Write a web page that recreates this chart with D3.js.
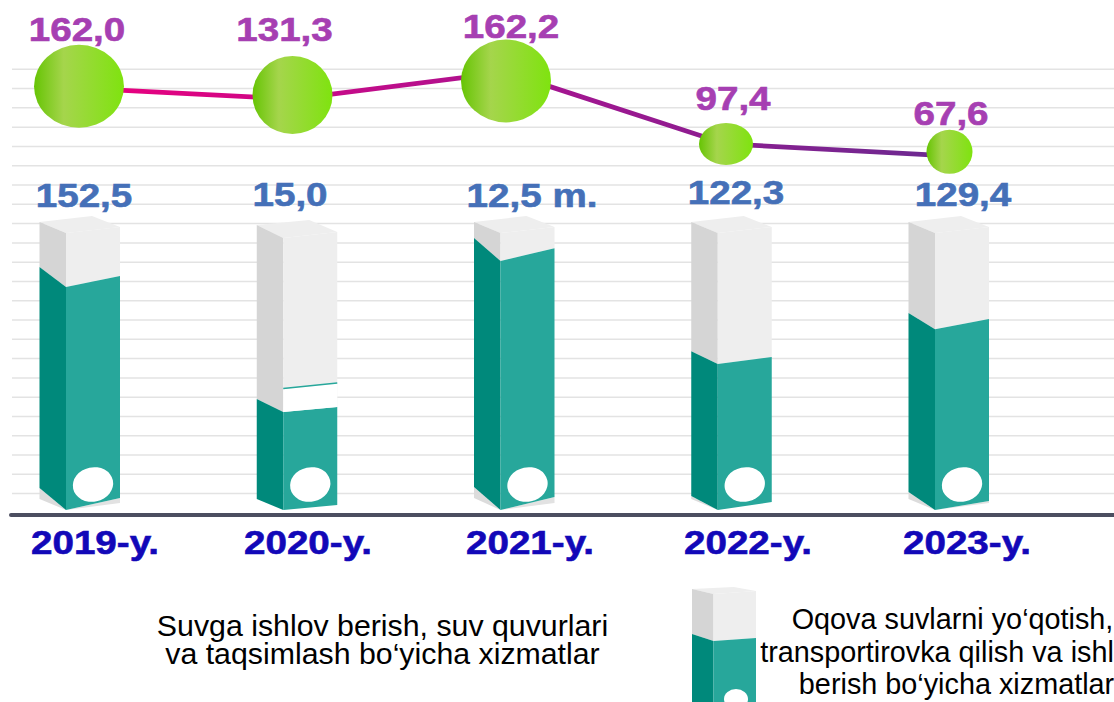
<!DOCTYPE html>
<html><head><meta charset="utf-8">
<script src="https://cdn.jsdelivr.net/npm/d3@7"></script>
<style>html,body{margin:0;padding:0;background:#fff;overflow:hidden}svg{display:block}text{font-family:"Liberation Sans",Arial,sans-serif}</style>
</head><body><svg id="c" width="1114" height="702"></svg>
<script>
// ---- data ----
const categories = ["2019-y.","2020-y.","2021-y.","2022-y.","2023-y."];
const lineLabels = ["162,0","131,3","162,2","97,4","67,6"];
const barLabels  = ["152,5","15,0","12,5 m.","122,3","129,4"];
const lineValues = [162.0,131.3,162.2,97.4,67.6];
// vertical level of the line and of its bubbles, percent of the plot height as drawn
const lineLevels   = [95.9,93.4,99.5,83.2,80.5];
const bubbleLevels = [96.3,94.3,97.5,83.2,81.4];
// bar fill, percent of the plot height as drawn (left edge / corner / right edge)
const fillLeft   = [55.2,25.2,61.8,36.1,44.8];
const fillCorner = [50.7,22.3,56.6,33.2,41.1];
const fillRight  = [53.2,23.4,59.5,34.8,43.4];
const gridCount = 23;
const legendA = ["Suvga ishlov berish, suv quvurlari","va taqsimlash bo‘yicha xizmatlar"];
const legendB = ["Oqova suvlarni yo‘qotish,","transportirovka qilish va ishl","berish bo‘yicha xizmatlar"];

// ---- layout ----
const svg = d3.select("#c");
const W = 1114;
const y = d3.scaleLinear().domain([0,100]).range([510,70]);
const grid = d3.scaleLinear().domain([0,gridCount-1]).range([69.3,493.6]);
const xBar = d3.scalePoint().domain(categories).range([39.5,908.5]);
const rx = d3.scaleLinear().domain([67.6,97.4,131.3,162.2]).range([23,27,40,45]);
const ry = d3.scaleLinear().domain([67.6,97.4,131.3,162.2]).range([22,21,39,41.5]);
const xBubble = [79,292.5,506,726,949.5];
const lineLabelPos = [{x:77,y:41},{x:284.5,y:41},{x:511,y:38},{x:733,y:110},{x:951,y:125}];
const barLabelPos = [{x:84,y:207},{x:290,y:206},{x:532,y:207},{x:736,y:204},{x:963,y:206}];
const yearX = [95,308,530,748,967];
const topShape = [
 {a:222,b:233,c:227,d:216},{a:225,b:238,c:232,d:220},{a:222,b:233,c:227,d:216},{a:222,b:233,c:227,d:216},{a:222,b:233,c:227,d:216}];
const bottomShape = [
 {a:488,b:510,c:498,ls:11,rs:503},{a:499,b:510,c:505,ls:0,rs:0},{a:487,b:510,c:497,ls:11,rs:503},
 {a:496,b:510,c:502,ls:3,rs:0},{a:492,b:510,c:501,ls:7,rs:503}];
const sideW = 26.5, frontW = 54;

const defs = svg.append("defs");
const gb = defs.append("linearGradient").attr("id","bub");
[[0,"#66c404"],[.33,"#a5d54c"],[1,"#7fe30f"]].forEach(s=>gb.append("stop").attr("offset",s[0]).attr("stop-color",s[1]));
const gl = defs.append("linearGradient").attr("id","lin").attr("gradientUnits","userSpaceOnUse")
  .attr("x1",100).attr("x2",950).attr("y1",0).attr("y2",0);
[[0,"#e9007f"],[.5,"#a81390"],[1,"#6a2a90"]].forEach(s=>gl.append("stop").attr("offset",s[0]).attr("stop-color",s[1]));

// grid
svg.append("g").selectAll("line").data(d3.range(gridCount)).join("line")
  .attr("x1",12).attr("x2",W).attr("y1",d=>grid(d)).attr("y2",d=>grid(d))
  .attr("stroke","#e3e3e3").attr("stroke-width",1.5);

// line + bubbles
const ln = d3.line().x((d,i)=>xBubble[i]).y(d=>y(d));
svg.append("path").attr("d",ln(lineLevels)).attr("fill","none").attr("stroke","url(#lin)").attr("stroke-width",4.8);
svg.append("g").selectAll("ellipse").data(lineValues).join("ellipse")
  .attr("cx",(d,i)=>xBubble[i]).attr("cy",(d,i)=>y(bubbleLevels[i]))
  .attr("rx",d=>rx(d)).attr("ry",d=>ry(d)).attr("fill","url(#bub)");

const poly = (g,pts,fill)=>g.append("polygon").attr("points",pts.map(p=>p.join(",")).join(" ")).attr("fill",fill);

function pack(g,x0,f,t,b,sw,fw){
  const x1=x0+sw,x2=x1+fw;
  if(b.ls){ poly(g,[[x0,b.a],[x0,b.a+b.ls],[x1,b.b]],"#dcdcdc"); }
  if(b.rs){ poly(g,[[x1,b.b],[x2,b.rs],[x2,b.c]],"#e2e2e2"); }
  poly(g,[[x0,t.a],[x1,t.b],[x2,t.c],[x1+fw/2-1,t.d]],"#eeeeee");
  poly(g,[[x0,t.a],[x1,t.b],[x1,f.b],[x0,f.a]],"#d5d5d5");
  poly(g,[[x1,t.b],[x2,t.c],[x2,f.c],[x1,f.b]],"#eeeeee");
  poly(g,[[x0,f.a],[x1,f.b],[x1,b.b],[x0,b.a]],"#00897b");
  poly(g,[[x1,f.b],[x2,f.c],[x2,b.c],[x1,b.b]],"#27a79b");
}

// bars
categories.forEach((c,i)=>{
  const g = svg.append("g");
  const x0 = xBar(c);
  const f = {a:y(fillLeft[i]),b:y(fillCorner[i]),c:y(fillRight[i])};
  pack(g,x0,f,topShape[i],bottomShape[i],sideW,frontW);
  if(i===1){ // cut-away band on the 2020 pack
    const x1=x0+sideW,x2=x1+frontW;
    poly(g,[[x1,389],[x2,383],[x2,f.c],[x1,f.b]],"#ffffff");
    g.append("line").attr("x1",x1).attr("x2",x2).attr("y1",388.5).attr("y2",383).attr("stroke","#27a79b").attr("stroke-width",1.5);
  }
  g.append("ellipse").attr("cx",x0+sideW+27).attr("cy",484.5).attr("rx",20.3).attr("ry",17.2)
    .attr("transform",`rotate(-12 ${x0+sideW+27} 484.5)`).attr("fill","#fff");
});

// baseline
svg.append("line").attr("x1",11).attr("x2",W+4).attr("y1",515).attr("y2",515)
  .attr("stroke","#4c4e60").attr("stroke-width",4).attr("stroke-linecap","round");

const stretched = (sel,pos,fs,col,weight,sx,sw)=>sel
  .attr("transform",(d,i)=>`translate(${pos(i).x},${pos(i).y}) scale(${sx},1)`)
  .attr("text-anchor","middle").attr("font-size",fs).attr("font-weight",weight).attr("fill",col)
  .attr("stroke",sw?col:"none").attr("stroke-width",sw||0).text(d=>d);

stretched(svg.append("g").selectAll("text").data(lineLabels).join("text"),i=>lineLabelPos[i],33,"#a63fb2","bold",1.17,.6);
stretched(svg.append("g").selectAll("text").data(barLabels).join("text"),i=>barLabelPos[i],33,"#4570b8","bold",1.17,.6);
stretched(svg.append("g").selectAll("text").data(categories).join("text"),i=>({x:yearX[i],y:554}),33,"#1208b8","bold",1.17,.6);

// legend
stretched(svg.append("g").selectAll("text").data(legendA).join("text"),i=>({x:382.5,y:636+i*27.5}),30.3,"#000","normal",1,0);
stretched(svg.append("g").selectAll("text").data(legendB).join("text"),i=>({x:[952.5,937,956.5][i],y:629+i*32.5}),28.8,"#000","normal",1,0);
const lg = svg.append("g");
pack(lg,692,{a:634,b:641,c:638},{a:589,b:594,c:591,d:587},{a:720,b:730,c:725,ls:0,rs:0},21.5,42.5);
lg.append("ellipse").attr("cx",736).attr("cy",699).attr("rx",12).attr("ry",10).attr("fill","#fff");
</script></body></html>
